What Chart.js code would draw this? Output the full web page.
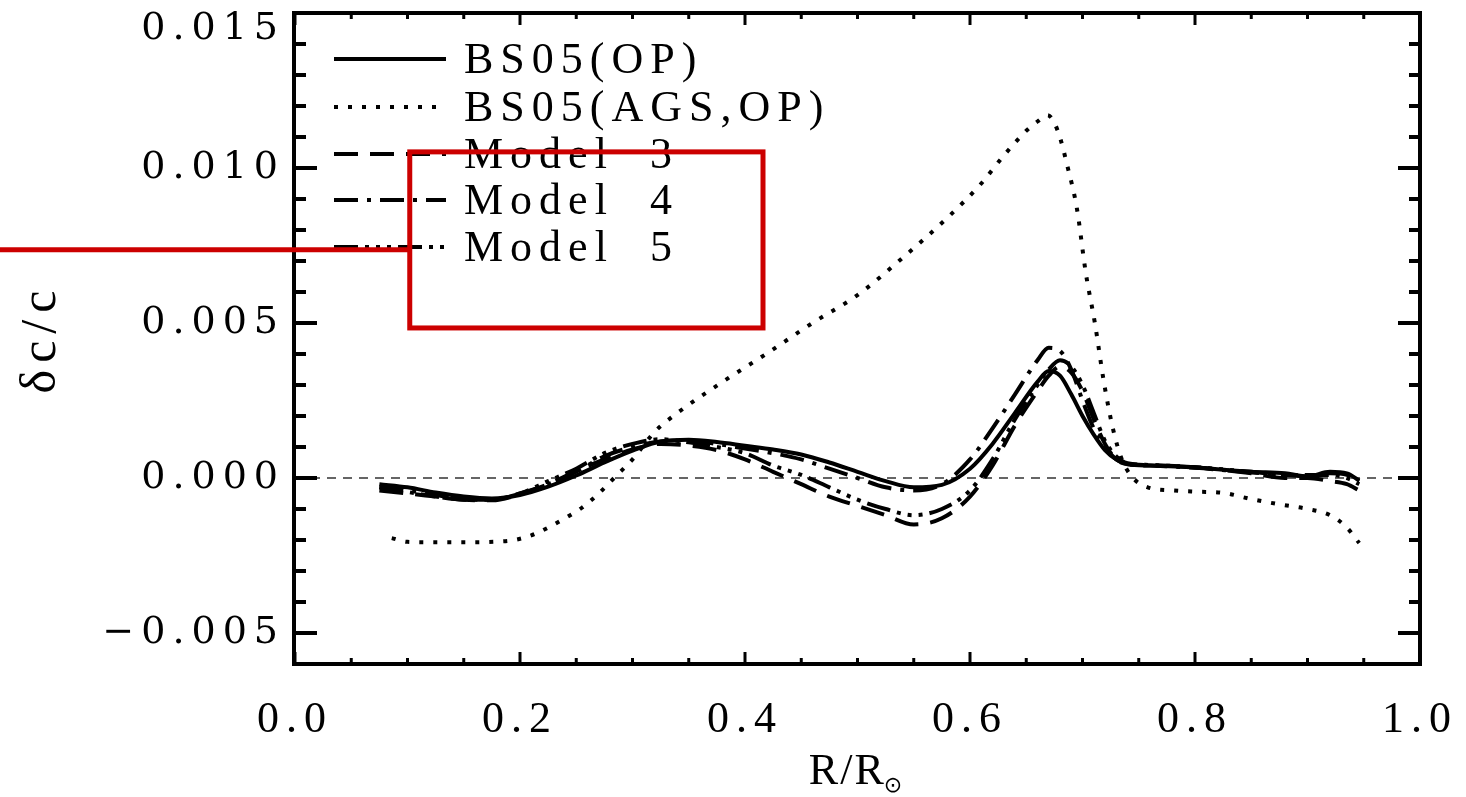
<!DOCTYPE html>
<html>
<head>
<meta charset="utf-8">
<script src="https://cdn.jsdelivr.net/npm/chart.js@4.4.1/dist/chart.umd.min.js"></script>
<style>
  html, body { margin: 0; padding: 0; background: #fff; }
  #wrap { width: 1466px; height: 797px; position: relative; }
</style>
</head>
<body>
<div id="wrap"><canvas id="canvas"></canvas></div>
<script>
// Radius grid shared by the solar models (R/Rsun)
const rModel = [0.075, 0.1, 0.125, 0.15, 0.175, 0.2, 0.225, 0.25, 0.275, 0.3, 0.325, 0.35, 0.375, 0.4,
    0.425, 0.45, 0.475, 0.5, 0.525, 0.55, 0.575, 0.6, 0.62, 0.64, 0.66, 0.67, 0.68, 0.69, 0.7, 0.71,
    0.72, 0.73, 0.74, 0.76, 0.8, 0.85, 0.88, 0.9, 0.92, 0.935, 0.946];

// dc/c for each model on rModel
const bs05op = [-0.0002, -0.0003, -0.00047, -0.0006, -0.00066, -0.00055, -0.00028, 0.00008, 0.0005, 0.00088,
    0.00118, 0.00123, 0.00116, 0.00104, 0.00092, 0.00076, 0.0005, 0.0002, -0.0001, -0.0003, -0.00022,
    0.0003, 0.0011, 0.0021, 0.0031, 0.00345, 0.0033, 0.0027, 0.002, 0.0014, 0.0009, 0.0006, 0.00044,
    0.0004, 0.00034, 0.0002, 0.00015, 0.00005, 0.0002, 0.00015, -0.00008];
const model3 = [-0.0004, -0.0005, -0.0006, -0.0007, -0.00072, -0.00052, -0.0002, 0.00022, 0.0006, 0.00092,
    0.0011, 0.00105, 0.0009, 0.0006, 0.0002, -0.0002, -0.0006, -0.0009, -0.0012, -0.0015, -0.0013,
    -0.0006, 0.0004, 0.0017, 0.0028, 0.0033, 0.0036, 0.0034, 0.0028, 0.0019, 0.0011, 0.0006, 0.00045,
    0.00042, 0.00035, 0.00015, 0.0, 0.0, -0.0001, -0.0002, -0.0004];
const model4 = [-0.0003, -0.0004, -0.00055, -0.00068, -0.0007, -0.0005, -0.0002, 0.0002, 0.0007, 0.001,
    0.00118, 0.0012, 0.0011, 0.00095, 0.0008, 0.0006, 0.0003, 0.0, -0.0003, -0.0004, -0.0002,
    0.0006, 0.0016, 0.0027, 0.0038, 0.0042, 0.0041, 0.0035, 0.0025, 0.0016, 0.001, 0.0006, 0.00045,
    0.0004, 0.00033, 0.00018, 0.0001, 0.00005, 0.00015, 0.0001, -0.0001];
const model5 = [-0.0003, -0.00045, -0.0006, -0.0007, -0.0007, -0.0005, -0.0001, 0.0003, 0.0008, 0.0011,
    0.00125, 0.00115, 0.001, 0.0008, 0.0004, 0.0001, -0.0003, -0.0007, -0.001, -0.0012, -0.001,
    -0.0004, 0.0006, 0.0019, 0.003, 0.0035, 0.0038, 0.0036, 0.003, 0.0021, 0.0012, 0.0007, 0.00048,
    0.00042, 0.00035, 0.0002, 0.0001, 0.0001, 0.0001, 0.0, -0.0002];

// BS05(AGS,OP) has its own radius grid
const rAgs = [0.086, 0.1, 0.12, 0.14, 0.16, 0.18, 0.195, 0.21, 0.225, 0.24, 0.255, 0.27, 0.285, 0.3, 0.32,
    0.34, 0.38, 0.42, 0.46, 0.5, 0.54, 0.58, 0.61, 0.63, 0.65, 0.66, 0.669, 0.678, 0.687, 0.695, 0.703,
    0.711, 0.719, 0.727, 0.735, 0.745, 0.758, 0.78, 0.8, 0.825, 0.85, 0.875, 0.9, 0.92, 0.935, 0.946];
const bs05ags = [-0.00194, -0.00206, -0.00207, -0.00207, -0.00207, -0.00205, -0.002, -0.00185, -0.0016,
    -0.0013, -0.00096, -0.0005, 0.00005, 0.0006, 0.0015, 0.0021, 0.0031, 0.00403, 0.005, 0.0059, 0.0071,
    0.0084, 0.0095, 0.0104, 0.0112, 0.0115, 0.0117, 0.0112, 0.01, 0.0087, 0.0066, 0.005, 0.0031, 0.0016,
    0.0006, 0.0, -0.0003, -0.0004, -0.00044, -0.00048, -0.00068, -0.00085, -0.001, -0.0012, -0.0016, -0.0021];

const seriesNames = ['BS05(OP)', 'BS05(AGS,OP)', 'Model  3', 'Model  4', 'Model  5'];
const xTicks = [0, 0.2, 0.4, 0.6, 0.8, 1.0];
const yTicks = [-0.005, 0, 0.005, 0.010, 0.015];

// Red highlight box drawn over the figure (data units)
const markBox = { x0: 0.102, x1: 0.416, y0: 0.00484, y1: 0.01052, lineY: 0.00736 };

function pairs(xs, ys) {
    return xs.map((x, i) => ({ x: x, y: ys[i] }));
}

function curve(label, xs, ys, dash) {
    return {
        label: label,
        data: pairs(xs, ys),
        borderColor: '#000',
        borderWidth: 4,
        borderDash: dash,
        borderCapStyle: 'butt',
        pointRadius: 0,
        fill: false,
        cubicInterpolationMode: 'monotone'
    };
}

const datasets = [
    curve(seriesNames[0], rModel, bs05op, []),
    curve(seriesNames[1], rAgs, bs05ags, [4, 10]),
    curve(seriesNames[2], rModel, model3, [24, 12]),
    curve(seriesNames[3], rModel, model4, [24, 9, 4, 9]),
    curve(seriesNames[4], rModel, model5, [24, 7, 4, 7, 4, 7, 4, 7]),
    {
        // zero reference line
        label: '',
        data: [{ x: 0, y: 0 }, { x: 1, y: 0 }],
        borderColor: '#333',
        borderWidth: 1.5,
        borderDash: [9, 7],
        pointRadius: 0,
        fill: false
    }
];

function line(ctx, x1, y1, x2, y2) {
    ctx.beginPath();
    ctx.moveTo(x1, y1);
    ctx.lineTo(x2, y2);
    ctx.stroke();
}

// Frame, inward ticks, legend, x title and the red marker
const decor = {
    id: 'decor',
    beforeDraw(chart) {
        chart.ctx.letterSpacing = '7px';
    },
    afterDraw(chart) {
        const ctx = chart.ctx;
        const a = chart.chartArea;
        const xs = chart.scales.x, ys = chart.scales.y;
        ctx.save();
        ctx.letterSpacing = '0px';
        ctx.strokeStyle = '#000';
        ctx.setLineDash([]);

        // x ticks every 0.05, major every 0.2
        ctx.lineWidth = 3;
        for (let k = 0; k <= 20; k++) {
            const px = xs.getPixelForValue(k * 0.05);
            const len = k % 4 === 0 ? 12 : 6;
            line(ctx, px, a.bottom, px, a.bottom - len);
            line(ctx, px, a.top, px, a.top + len);
        }
        // y ticks every 0.001, major every 0.005
        ctx.lineWidth = 4;
        for (let k = -6; k <= 15; k++) {
            const py = ys.getPixelForValue(k * 0.001);
            const len = k % 5 === 0 ? 22 : 11;
            line(ctx, a.left, py, a.left + len, py);
            line(ctx, a.right, py, a.right - len, py);
        }
        // frame
        ctx.lineWidth = 4;
        ctx.strokeRect(a.left - 1, a.top, a.right - a.left + 1, a.bottom - a.top);

        // legend
        const rows = [46, 94, 141, 187, 234];
        ctx.font = '44px "Liberation Serif", serif';
        ctx.textBaseline = 'middle';
        ctx.fillStyle = '#000';
        chart.data.datasets.forEach((ds, i) => {
            if (!ds.label) return;
            const y = a.top + rows[i];
            ctx.lineWidth = ds.borderWidth;
            ctx.lineCap = 'butt';
            ctx.setLineDash(ds.borderDash);
            line(ctx, a.left + 39, y, a.left + 151, y);
            ctx.setLineDash([]);
            ctx.letterSpacing = '7px';
            ctx.fillText(ds.label, a.left + 169, y + 2);
            ctx.letterSpacing = '0px';
        });

        // x axis title R/R(sun)
        ctx.textBaseline = 'alphabetic';
        ctx.letterSpacing = '2px';
        ctx.font = '44px "Liberation Serif", serif';
        const main = 'R/R';
        const w = ctx.measureText(main).width;
        ctx.font = '22px "DejaVu Sans", sans-serif';
        const sw = ctx.measureText('\u2299').width;
        const cx = (a.left + a.right) / 2;
        const x0 = cx - (w + sw) / 2;
        ctx.font = '44px "Liberation Serif", serif';
        ctx.fillText(main, x0, 784);
        ctx.font = '22px "DejaVu Sans", sans-serif';
        ctx.fillText('\u2299', x0 + w - 2, 792);

        // red marker box and leader line
        ctx.strokeStyle = '#cc0000';
        ctx.lineWidth = 5;
        const bx0 = xs.getPixelForValue(markBox.x0), bx1 = xs.getPixelForValue(markBox.x1);
        const by0 = ys.getPixelForValue(markBox.y1), by1 = ys.getPixelForValue(markBox.y0);
        ctx.strokeRect(bx0, by0, bx1 - bx0, by1 - by0);
        const ly = ys.getPixelForValue(markBox.lineY);
        line(ctx, 0, ly, bx0, ly);
        ctx.restore();
    }
};

function yLabel(v) {
    const s = Math.abs(v).toFixed(3);
    const txt = v < -1e-12 ? '\u2212' + s : s;
    // top label sits a line below its tick, as in the figure
    return Math.abs(v - 0.015) < 1e-9 ? ['', txt] : txt;
}

const config = {
    type: 'line',
    data: { datasets: datasets },
    options: {
        responsive: true,
        maintainAspectRatio: false,
        animation: false,
        layout: { padding: { top: 13, right: 46, left: 0, bottom: 0 } },
        plugins: {
            legend: { display: false },
            tooltip: { enabled: false }
        },
        scales: {
            x: {
                type: 'linear',
                min: 0,
                max: 1,
                grid: { display: false, drawTicks: false },
                border: { display: false },
                afterBuildTicks: (s) => { s.ticks = xTicks.map(v => ({ value: v })); },
                afterFit: (s) => { s.height = 133; s.paddingLeft = 0; s.paddingRight = 0; },
                ticks: {
                    autoSkip: false,
                    maxRotation: 0,
                    padding: 30,
                    color: '#000',
                    font: { family: '"Liberation Serif", serif', size: 44 },
                    callback: (v) => v.toFixed(1)
                }
            },
            y: {
                type: 'linear',
                min: -0.006,
                max: 0.015,
                grid: { display: false, drawTicks: false },
                border: { display: false },
                afterBuildTicks: (s) => { s.ticks = yTicks.map(v => ({ value: v })); },
                afterFit: (s) => { s.width = 295; s.paddingTop = 0; s.paddingBottom = 0; },
                title: {
                    display: true,
                    text: '\u03b4c/c',
                    color: '#000',
                    padding: { top: 17, bottom: 0 },
                    font: { family: '"Liberation Serif", serif', size: 50, lineHeight: 1 }
                },
                ticks: {
                    padding: 10,
                    color: '#000',
                    font: { family: '"DejaVu Serif", serif', size: 38, lineHeight: 0.85 },
                    callback: yLabel
                }
            }
        }
    },
    plugins: [decor]
};

let myChart;

function init() {
    myChart = new Chart('canvas', config);
}

init();
</script>
</body>
</html>
